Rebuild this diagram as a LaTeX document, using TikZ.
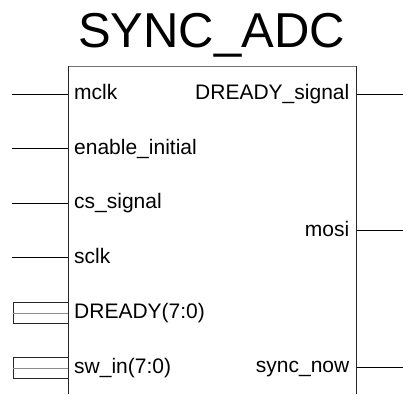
\documentclass[tikz,border=0pt]{standalone}
\usepackage{fontspec}
\setmainfont{Liberation Sans}
\begin{document}
\begin{tikzpicture}[x=1pt,y=-1pt,
  pin/.style={draw=black,line width=0.9pt},
  lbl/.style={inner sep=0pt,font=\fontsize{21}{22}\selectfont},
  ttl/.style={inner sep=0pt,font=\fontsize{49}{50}\selectfont}]
\useasboundingbox (0,0) rectangle (403,394);
% title
\node[ttl,anchor=base] (title) at (211.5,47) {SYNC\_ADC};
% box
\coordinate (tl) at (68,66);
\coordinate (tr) at (356.5,66);
\coordinate (bl) at (68,394);
\coordinate (br) at (356.5,394);
\draw[draw=black!55,line width=0.9pt] (tl) -- (tr);
\draw[draw=black!85,line width=0.9pt] (tl) -- (bl);
\draw[draw=black!85,line width=0.9pt] (tr) -- (br);
% left pins
\foreach \n/\y/\t in {mclk/94/mclk, en/148.6/enable\_initial, cs/203.2/cs\_signal, sclk/257.8/sclk}{
  \coordinate (\n-o) at (12,\y);
  \coordinate (\n-i) at (68,\y);
  \draw[pin] (\n-o) -- (\n-i);
  \node[lbl,anchor=base west] (\n-l) at (74,\y+5.5) {\t};
}
% bus pins
\foreach \n/\y/\t in {dr/313.4/DREADY(7:0), sw/368.2/sw\_in(7:0)}{
  \coordinate (\n-a) at (13,\y-10.5);
  \coordinate (\n-b) at (68,\y+10.5);
  \coordinate (\n-m1) at (13,\y);
  \coordinate (\n-m2) at (68,\y);
  \draw[draw=black!85,line width=0.9pt] (\n-a) rectangle (\n-b);
  \draw[draw=black!45,line width=0.9pt] (\n-m1) -- (\n-m2);
  \node[lbl,anchor=base west] (\n-l) at (74,\y+5) {\t};
}
% right pins
\foreach \n/\y/\t in {drs/94/DREADY\_signal, mosi/230.5/mosi, sync/367/sync\_now}{
  \coordinate (\n-i) at (356.5,\y);
  \coordinate (\n-o) at (403,\y);
  \draw[pin] (\n-i) -- (\n-o);
  \node[lbl,anchor=base east] (\n-l) at (349.5,\y+5.5) {\t};
}
\end{tikzpicture}
\end{document}
